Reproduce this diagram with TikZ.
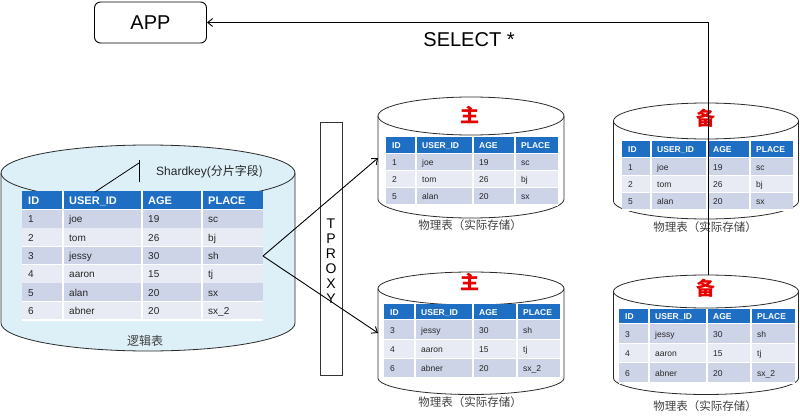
\documentclass[tikz,border=0pt]{standalone}
\usepackage{fontspec}
\setmainfont{Liberation Sans}
\newfontfamily\cjk{Noto Sans CJK SC}
\usetikzlibrary{arrows.meta}
\definecolor{hdr}{HTML}{1E6EC4}
\definecolor{rowa}{HTML}{CDD4E8}
\definecolor{rowb}{HTML}{E8EBF4}
\definecolor{cylfill}{HTML}{DDEFF7}
\definecolor{cylcol}{HTML}{2B2B2B}
\definecolor{captxt}{HTML}{404040}
\definecolor{redtxt}{HTML}{E60000}
\newcounter{cellno}
\newcommand\setcols[5]{\def\colA{#1}\def\colB{#2}\def\colC{#3}\def\colD{#4}\def\colE{#5}}
\newcommand\hcell[4]{\stepcounter{cellno}\node[headt, name=c\arabic{cellno}] at ({#1+\pad},{(#2+#3)/2+\headbo}) {#4};}
\newcommand\rcell[4]{\stepcounter{cellno}\node[cellt, name=c\arabic{cellno}] at ({#1+\pad},{(#2+#3)/2+\rowbo}) {#4};}
\newcommand\thead[2]{%
  \fill[hdr] (\colA,#1) rectangle (\colE,#2);
  \draw[sep] (\colB,#1)--(\colB,#2) (\colC,#1)--(\colC,#2) (\colD,#1)--(\colD,#2) (\colA,#2)--(\colE,#2);
  \hcell{\colA}{#1}{#2}{ID}\hcell{\colB}{#1}{#2}{USER\_ID}\hcell{\colC}{#1}{#2}{AGE}\hcell{\colD}{#1}{#2}{PLACE}}
\newcommand\trow[7]{%
  \fill[#3] (\colA,#1) rectangle (\colE,#2);
  \draw[sep] (\colB,#1)--(\colB,#2) (\colC,#1)--(\colC,#2) (\colD,#1)--(\colD,#2) (\colA,#2)--(\colE,#2);
  \rcell{\colA}{#1}{#2}{#4}\rcell{\colB}{#1}{#2}{#5}\rcell{\colC}{#1}{#2}{#6}\rcell{\colD}{#1}{#2}{#7}}
% cylinder: cx, ytop, ybot, rx, ry, fill
\newcommand\cyl[6]{%
  \filldraw[cylline, fill=#6] (#1-#4,#2) -- (#1-#4,#3)
    arc[start angle=180, end angle=360, x radius=#4pt, y radius=#5pt]
    -- (#1+#4,#2)
    arc[start angle=0, end angle=180, x radius=#4pt, y radius=#5pt] -- cycle;
  \draw[cylline] (#1-#4,#2) arc[start angle=180, end angle=360, x radius=#4pt, y radius=#5pt];}
\tikzset{
  cylline/.style={draw=cylcol, line width=0.8pt},
  sep/.style={draw=white, line width=1.2pt},
  cellt/.style={anchor=base west, inner sep=0pt, text=black!85, font=\rowfont},
  headt/.style={anchor=base west, inner sep=0pt, text=white, font=\headfont},
  conn/.style={draw=black, line width=0.9pt},
  tip/.style={-{Straight Barb[length=5pt,width=8pt]}},
  caption/.style={font=\cjk\fontsize{11.5}{13}\selectfont, text=captxt, inner sep=0pt},
  master/.style={font=\cjk\bfseries\fontsize{19}{21}\selectfont, text=redtxt, inner sep=0pt},
}
\begin{document}
\begin{tikzpicture}[x=1pt,y=-1pt]
\useasboundingbox (0,0) rectangle (800,420);
\fill[white] (0,0) rectangle (800,420);

% ---------- left logical table ----------
\cyl{148}{173}{323}{147}{28}{cylfill}
\def\rowfont{\fontsize{10}{12}\selectfont}\def\headfont{\bfseries\fontsize{11}{13}\selectfont}
\def\pad{6}\def\rowbo{3.6}\def\headbo{4}
\setcols{22}{63}{142}{202}{263}
\thead{191}{210}
\trow{210}{228.3}{rowa}{1}{joe}{19}{sc}
\trow{228.3}{246.7}{rowb}{2}{tom}{26}{bj}
\trow{246.7}{265}{rowa}{3}{jessy}{30}{sh}
\trow{265}{283.3}{rowb}{4}{aaron}{15}{tj}
\trow{283.3}{301.7}{rowa}{5}{alan}{20}{sx}
\trow{301.7}{320}{rowb}{6}{abner}{20}{sx\_2}
\node[font=\fontsize{12}{14}\selectfont, anchor=west, inner sep=0pt, text=black!85] (sk) at (156,172) {Shardkey(\cjk 分片字段)};
\coordinate (ska) at (95,192);
\coordinate (skb) at (139,163);
\coordinate (skc) at (139,160);
\coordinate (skd) at (139,182);
\draw[line width=0.8pt] (ska) -- (skb);
\draw[line width=0.8pt] (skc) -- (skd);
\node[caption, font=\cjk\fontsize{12}{14}\selectfont] (logic) at (145,341) {逻辑表};

% ---------- TPROXY ----------
\node[draw=black!80, line width=0.8pt, minimum width=22pt, minimum height=253pt, inner sep=0pt] (tproxy) at (331,248.5) {};
\node[align=center, font=\fontsize{14}{15}\selectfont, inner sep=0pt] (tptext) at (331,261) {T\\P\\R\\O\\X\\Y};

% ---------- middle top ----------
\cyl{471}{116}{199}{93}{19}{white}
\node[master] (m1) at (470,115) {主};
\def\rowfont{\fontsize{8.5}{10}\selectfont}\def\headfont{\bfseries\fontsize{8.5}{10}\selectfont}
\def\pad{6}\def\rowbo{3}\def\headbo{3}
\setcols{386}{416}{473}{515}{558}
\thead{137}{154}
\trow{154}{171}{rowa}{1}{joe}{19}{sc}
\trow{171}{188}{rowb}{2}{tom}{26}{bj}
\trow{188}{205}{rowa}{5}{alan}{20}{sx}
\node[caption] (cap1) at (470,225) {物理表（实际存储）};

% ---------- middle bottom ----------
\cyl{471}{288.5}{378}{93}{16.5}{white}
\node[master] (m2) at (470,282) {主};
\setcols{384}{415}{473}{517}{560}
\thead{304}{320}
\trow{320}{340}{rowa}{3}{jessy}{30}{sh}
\trow{340}{359}{rowb}{4}{aaron}{15}{tj}
\trow{359}{378}{rowa}{6}{abner}{20}{sx\_2}
\node[caption] (cap2) at (470,402) {物理表（实际存储）};

% ---------- right top ----------
\cyl{706}{121}{201}{92.5}{18}{white}
\node[master] (b1) at (706,118) {备};
\setcols{622}{651}{707}{750}{793}
\thead{141}{158}
\trow{158}{176}{rowa}{1}{joe}{19}{sc}
\trow{176}{193}{rowb}{2}{tom}{26}{bj}
\trow{193}{210}{rowa}{5}{alan}{20}{sx}
\node[caption] (cap3) at (705,227) {物理表（实际存储）};

% ---------- right bottom ----------
\cyl{706}{291.5}{378}{92.5}{16.5}{white}
\node[master] (b2) at (706,288) {备};
\setcols{619}{649}{707}{751}{795}
\thead{309}{324}
\trow{324}{344}{rowa}{3}{jessy}{30}{sh}
\trow{344}{363}{rowb}{4}{aaron}{15}{tj}
\trow{363}{383}{rowa}{6}{abner}{20}{sx\_2}
\node[caption] (cap4) at (705,406) {物理表（实际存储）};

% ---------- routing arrows ----------
\coordinate (split) at (263,256);
\coordinate (toptgt) at (378,158);
\coordinate (bottgt) at (378,333);
\draw[conn, tip] (split) -- (toptgt);
\draw[conn, tip] (split) -- (bottgt);

% ---------- APP ----------
\node[draw=black, line width=0.9pt, rounded corners=6pt, minimum width=112pt, minimum height=41pt, inner sep=0pt, font=\fontsize{20}{24}\selectfont] (app) at (150.5,22.5) {APP};
\node[font=\fontsize{20}{24}\selectfont, inner sep=0pt] (sel) at (469,40) {SELECT *};
\coordinate (bk) at (708,275);
\draw[conn, tip] (bk) |- (app.east);
\end{tikzpicture}
\end{document}
